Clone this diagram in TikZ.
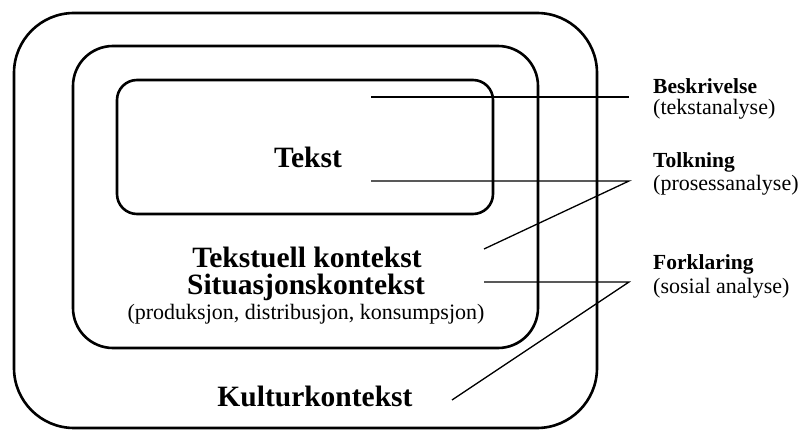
\documentclass[tikz,border=0pt]{standalone}
\usepackage{fontspec}
\setmainfont{Liberation Serif}
\begin{document}
\begin{tikzpicture}[x=1pt,y=-1pt,
  box/.style={line width=2.6pt},
  link/.style={line width=1.3pt},
  big/.style={font=\fontsize{29.5}{32}\selectfont\bfseries},
  small/.style={font=\fontsize{22}{25}\selectfont},
  lab/.style={font=\fontsize{21.5}{24}\selectfont\bfseries, anchor=west, inner sep=0pt},
  labs/.style={font=\fontsize{22}{25}\selectfont, anchor=west, inner sep=0pt}]
\useasboundingbox (0,0) rectangle (801,430);
\fill[white] (0,0) rectangle (801,430);
% boxes
\draw[box, rounded corners=60pt] (14,13) rectangle (597,428);
\draw[box, rounded corners=40pt] (73,46) rectangle (538,348);
\draw[box, rounded corners=20pt] (117,80) rectangle (493,214);
% texts
\node[big] (tekst) at (308,157) {Tekst};
\node[big] (tk) at (307,257) {Tekstuell kontekst};
\node[big] (sk) at (306,287) {Situasjonskontekst};
\node[small] (pdk) at (306,314) {(produksjon, distribusjon, konsumpsjon)};
\node[big] (kk) at (315,396) {Kulturkontekst};
% labels
\node[lab] (b1) at (653,86) {Beskrivelse};
\node[labs] (b2) at (653,109) {(tekstanalyse)};
\node[lab] (t1) at (653,162) {Tolkning};
\node[labs] (t2) at (653,185) {(prosessanalyse)};
\node[lab] (f1) at (653,264) {Forklaring};
\node[labs] (f2) at (653,288) {(sosial analyse)};
% connector points
\coordinate (bA) at (371,97);
\coordinate (bB) at (629,97);
\coordinate (tA) at (371,181);
\coordinate (tB) at (629,181);
\coordinate (tC) at (484,249);
\coordinate (fA) at (484,282);
\coordinate (fB) at (629,282);
\coordinate (fC) at (452,400);
\draw[link] (bA) -- (bB);
\draw[link] (tA) -- (tB) -- (tC);
\draw[link] (fA) -- (fB) -- (fC);
\end{tikzpicture}
\end{document}
